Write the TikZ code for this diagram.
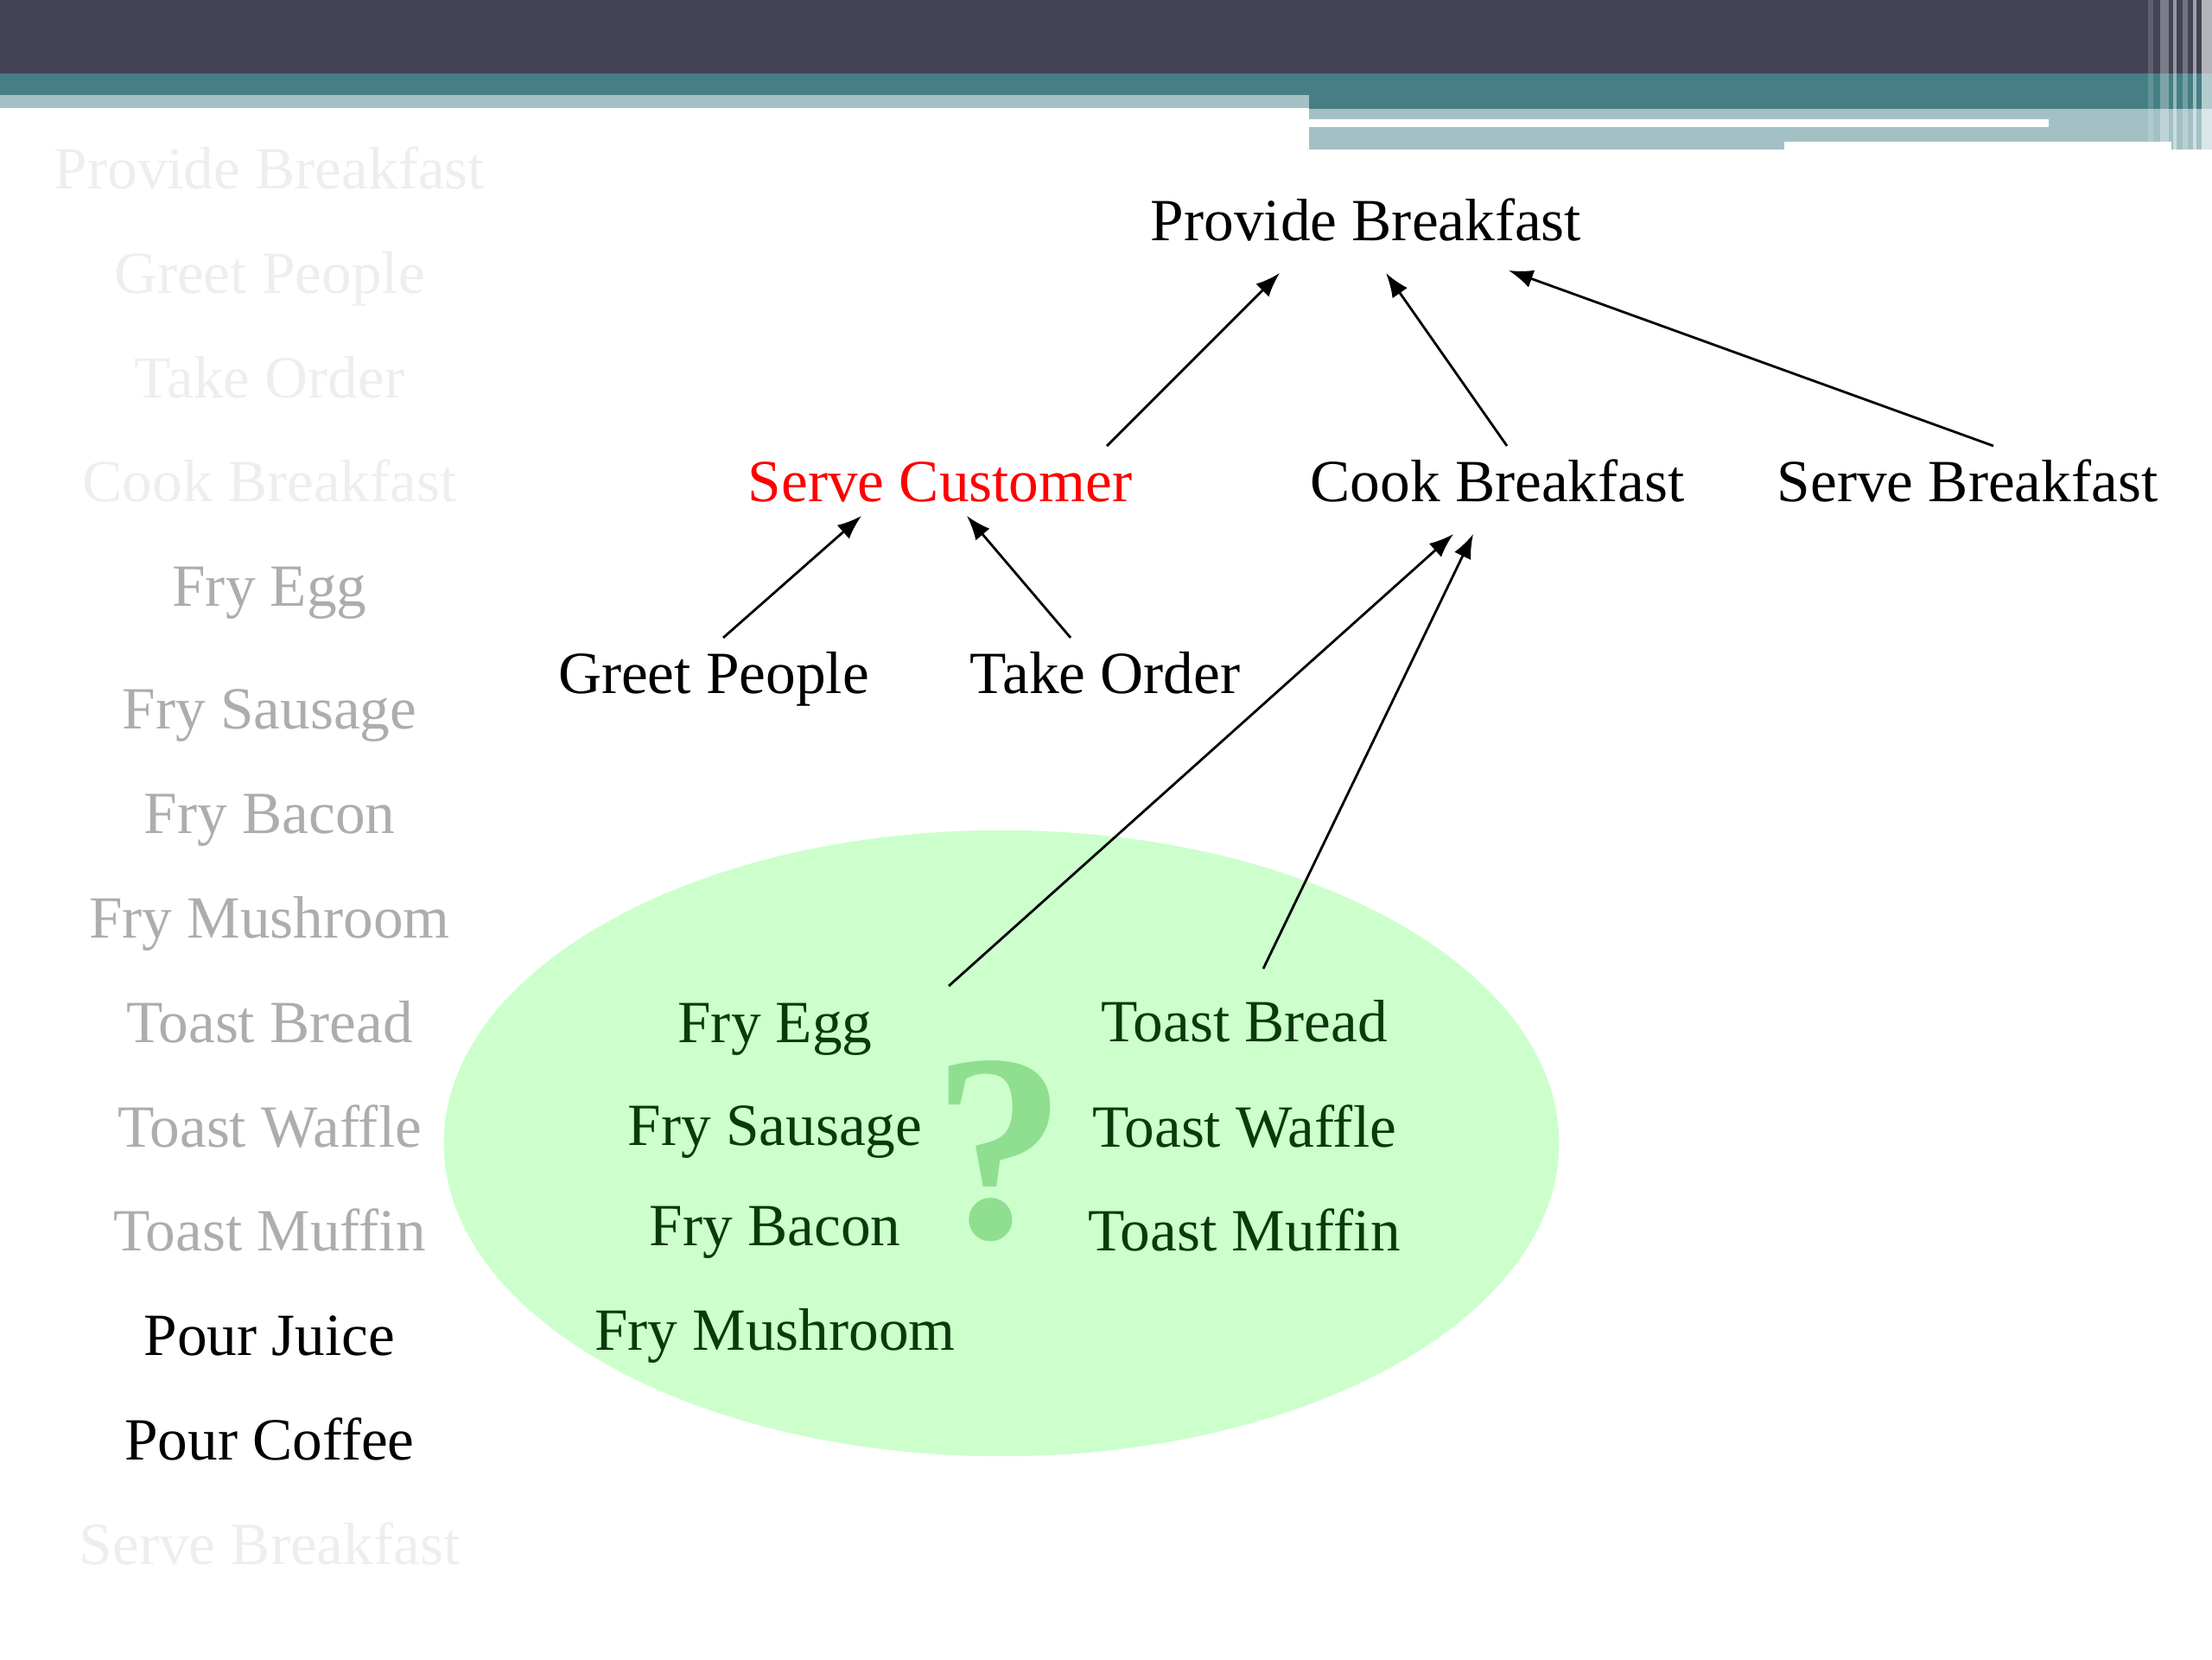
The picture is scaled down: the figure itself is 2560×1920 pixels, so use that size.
\documentclass[tikz,border=0pt]{standalone}
\usepackage{fontspec}
\setmainfont{Liberation Serif}
\usetikzlibrary{arrows.meta}
\definecolor{bandDark}{HTML}{434356}
\definecolor{bandTeal}{HTML}{457F85}
\definecolor{bandLight}{HTML}{A3C1C5}
\definecolor{blobGreen}{HTML}{CCFFCC}
\definecolor{qGreen}{HTML}{90DE90}
\definecolor{leafText}{HTML}{0A3A0A}
\definecolor{fadeText}{HTML}{EEEEEE}
\definecolor{dimText}{HTML}{ADADAD}
\begin{document}
\begin{tikzpicture}[x=0.01cm, y=-0.01cm, every node/.style={font=\fontsize{19.7}{23}\selectfont, anchor=base, inner sep=0pt}, arr/.style={-{Latex[length=8pt,width=6pt]}, line width=0.8pt}]
\useasboundingbox (0,0) rectangle (2560,1920);
% title band
\fill[bandDark] (0,0) rectangle (2560,85);
\fill[bandTeal] (0,85) rectangle (1515,110);
\fill[bandTeal] (1515,85) rectangle (2560,126);
\fill[bandLight] (0,110) rectangle (1515,125);
\fill[bandLight] (1515,126) rectangle (2065,173);
\fill[bandLight] (2065,126) rectangle (2513,164);
\fill[bandLight] (2513,126) rectangle (2560,173);
\fill[white] (1515,138) rectangle (2371,147);
\foreach \x/\w/\o in {2486/6/0.15, 2500/10/0.3, 2515/4/0.45, 2526/6/0.25, 2538/4/0.5, 2548/12/0.6}
  \fill[white, opacity=\o] (\x,0) rectangle (\x+\w,173);
% task list
\foreach \i/\y/\c/\t in {1/218/fadeText/Provide Breakfast, 2/339/fadeText/Greet People, 3/460/fadeText/Take Order, 4/580/fadeText/Cook Breakfast, 5/701/dimText/Fry Egg, 6/843/dimText/Fry Sausage, 7/964/dimText/Fry Bacon, 8/1085/dimText/Fry Mushroom, 9/1206/dimText/Toast Bread, 10/1327/dimText/Toast Waffle, 11/1447/dimText/Toast Muffin, 12/1568/black/Pour Juice, 13/1689/black/Pour Coffee, 14/1810/fadeText/Serve Breakfast}
  \node[text=\c] (task\i) at (312,\y) {\t};
% green blob
\fill[blobGreen] (1159,1323) ellipse [x radius=6.45cm, y radius=3.62cm];
\node[text=qGreen, font=\fontsize{88}{92}\selectfont\bfseries] (qm) at (1157,1432) {?};
% tree
\node (pb) at (1581,278) {Provide Breakfast};
\node[text=red] (sc) at (1088,580) {Serve Customer};
\node (cb) at (1733,580) {Cook Breakfast};
\node (sb) at (2277,580) {Serve Breakfast};
\node (gp) at (826,802) {Greet People};
\node (to) at (1279,802) {Take Order};
\foreach \n/\y/\t in {fe/1206/Fry Egg, fs/1325/Fry Sausage, fb/1441/Fry Bacon, fm/1562/Fry Mushroom}
  \node[text=leafText] (\n) at (897,\y) {\t};
\foreach \n/\y/\t in {tb/1205/Toast Bread, tw/1327/Toast Waffle, tm/1447/Toast Muffin}
  \node[text=leafText] (\n) at (1440,\y) {\t};
% arrows
\draw[arr] ([shift={(193,-64)}]sc.base) -- ([shift={(-100,38)}]pb.base);
\draw[arr] ([shift={(11,-64)}]cb.base) -- ([shift={(23,38)}]pb.base);
\draw[arr] ([shift={(30,-64)}]sb.base) -- ([shift={(165,35)}]pb.base);
\draw[arr] ([shift={(11,-64)}]gp.base) -- ([shift={(-91,17)}]sc.base);
\draw[arr] ([shift={(-40,-64)}]to.base) -- ([shift={(31,17)}]sc.base);
\draw[arr] ([shift={(201,-65)}]fe.base) -- ([shift={(-51,38)}]cb.base);
\draw[arr] ([shift={(22,-84)}]tb.base) -- ([shift={(-28,38)}]cb.base);
\end{tikzpicture}
\end{document}
